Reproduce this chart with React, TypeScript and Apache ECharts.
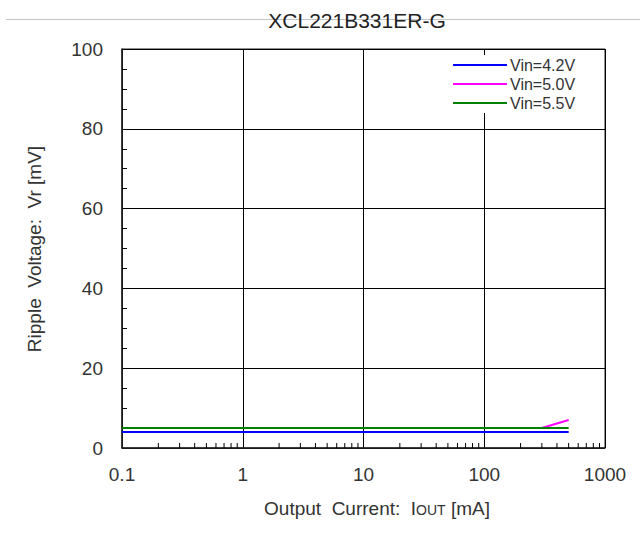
import React, { useEffect, useRef } from "react";
import * as echarts from "echarts";

const chartTitle = "XCL221B331ER-G";
const currents = [0.1, 1, 10, 100, 300, 500];
const vin42 = [4, 4, 4, 4, 4, 4];
const vin50 = [5, 5, 5, 5, 5, 7];
const vin55 = [5, 5, 5, 5, 5, 5];
const seriesNames = ["Vin=4.2V", "Vin=5.0V", "Vin=5.5V"];
const seriesColors = ["#0000ff", "#ff00ff", "#008000"];
const decades = [0.1, 1, 10, 100];
const minorMultipliers = [2, 3, 4, 5, 6, 7, 8, 9];
const xTickLabels = ["0.1", "1", "10", "100", "1000"];

export default function App() {
  const ref = useRef<HTMLDivElement>(null);
  useEffect(() => {
    if (!ref.current) return;
    const chart = echarts.init(ref.current, null, { renderer: "svg" });
    const minorTicks: number[][] = [];
    decades.forEach((d) => minorMultipliers.forEach((m) => minorTicks.push([+(d * m).toPrecision(3), 0])));
    const seriesData = [vin42, vin50, vin55];
    const font = "'Liberation Sans', Arial, sans-serif";
    chart.setOption({
      animation: false,
      backgroundColor: "#ffffff",
      textStyle: { fontFamily: font },
      grid: {
        left: 122,
        right: 35,
        top: 49,
        bottom: 88,
        show: true,
        borderColor: "#222",
        borderWidth: 1,
        backgroundColor: "transparent",
      },
      xAxis: {
        type: "log",
        logBase: 10,
        min: 0.1,
        max: 1000,
        splitNumber: 4,
        axisLine: { show: true, lineStyle: { color: "#222", width: 1.5 } },
        axisTick: { show: false },
        splitLine: { show: true, lineStyle: { color: "#000", width: 1 } },
        axisLabel: {
          fontSize: 19,
          color: "#333",
          margin: 17,
          fontFamily: font,
          formatter: (v: number) => {
            const i = Math.round(Math.log10(v)) + 1;
            return xTickLabels[i] ?? String(v);
          },
        },
      },
      yAxis: {
        type: "value",
        min: 0,
        max: 100,
        interval: 20,
        axisLine: { show: true, lineStyle: { color: "#222", width: 1.5 } },
        axisTick: { show: false, inside: true, length: 5 },
        minorTick: { show: true, splitNumber: 4, length: 5, lineStyle: { color: "#000", width: 1 } },
        splitLine: { show: true, lineStyle: { color: "#000", width: 1 } },
        axisLabel: { fontSize: 19, color: "#333", margin: 19, fontFamily: font },
      },
      legend: {
        data: seriesNames,
        orient: "vertical",
        left: 449,
        top: 55,
        padding: [2, 6, 2, 4],
        backgroundColor: "#ffffff",
        icon: "rect",
        itemWidth: 54,
        itemHeight: 2,
        itemGap: 3,
        textStyle: { fontSize: 16, color: "#333", fontFamily: font, lineHeight: 16, padding: [0, 0, 0, -2] },
      },
      graphic: [
        {
          type: "line",
          shape: { x1: 6, y1: 19.5, x2: 640, y2: 19.5 },
          style: { stroke: "#c4c4c4", lineWidth: 1 },
          z: 1,
        },
        {
          type: "text",
          x: 357,
          y: 20,
          z: 2,
          style: {
            text: chartTitle,
            fontSize: 21,
            fontFamily: font,
            fill: "#222",
            textAlign: "center",
            textVerticalAlign: "middle",
          },
        },
        {
          type: "text",
          x: 34,
          y: 249,
          rotation: Math.PI / 2,
          style: {
            text: "Ripple  Voltage:  Vr [mV]",
            fontSize: 19,
            fontFamily: font,
            fill: "#333",
            textAlign: "center",
            textVerticalAlign: "middle",
          },
        },
        {
          type: "text",
          x: 377,
          y: 508,
          style: {
            text: "Output  Current:  I{s|OUT} [mA]",
            fontSize: 19,
            fontFamily: font,
            fill: "#333",
            textAlign: "center",
            textVerticalAlign: "middle",
            rich: {
              s: { fontSize: 14, fontFamily: font, fill: "#333", padding: [3, 0, 0, 0] },
            },
          },
        },
      ],
      series: [
        ...seriesNames.map((name, i) => ({
          name,
          type: "line",
          symbol: "none",
          color: seriesColors[i],
          lineStyle: { color: seriesColors[i], width: 2 },
          data: currents.map((c, j) => [c, seriesData[i][j]]),
          z: 3,
        })),
        {
          type: "custom",
          name: "minorTicks",
          data: minorTicks,
          silent: true,
          z: 5,
          renderItem: (params: any, api: any) => {
            const p = api.coord([api.value(0), 0]);
            return {
              type: "line",
              shape: { x1: p[0], y1: p[1], x2: p[0], y2: p[1] - 5 },
              style: { stroke: "#000", lineWidth: 1 },
            };
          },
        },
      ],
    });
    return () => chart.dispose();
  }, []);
  return <div ref={ref} style={{ position: "fixed", left: 0, top: 0, width: 640, height: 536 }} />;
}
